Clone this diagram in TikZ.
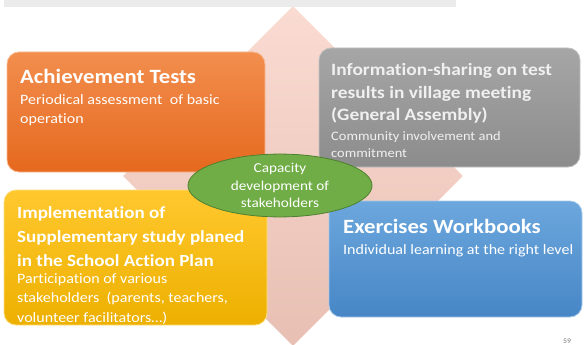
\documentclass[tikz,border=0pt]{standalone}
\usepackage{xcolor}
\usepackage{fontspec}
\setmainfont{Carlito}[FakeStretch=1.12, Ligatures=NoCommon]
\usetikzlibrary{calc, shapes.geometric, positioning}
\definecolor{corangetop}{HTML}{F28E4E}
\definecolor{corangebot}{HTML}{E5691E}
\definecolor{cgraytop}{HTML}{A6A6A6}
\definecolor{cgraybot}{HTML}{8C8C8C}
\definecolor{cyellowtop}{HTML}{FFC82E}
\definecolor{cyellowbot}{HTML}{EDB000}
\definecolor{cbluetop}{HTML}{6CA7DD}
\definecolor{cbluebot}{HTML}{4786C6}
\definecolor{cgreen}{HTML}{70AD47}
\definecolor{cgreendark}{HTML}{4E7F30}
\definecolor{cpinktop}{HTML}{FADBD2}
\definecolor{cpinkbot}{HTML}{E8BFB3}
\definecolor{cbar}{HTML}{EBEBEB}

\begin{document}
\begin{tikzpicture}[x=1pt, y=-1pt]
    \begin{scope}[
        tile/.style={rectangle, rounded corners=12pt, line width=0.8pt, inner sep=0pt},
        tiletitle/.style={anchor=base west, align=left, inner sep=0pt, text=white, font=\fontsize{20.3}{24}\selectfont\bfseries},
        tiletext/.style={anchor=base west, align=left, inner sep=0pt, text=white, font=\fontsize{14.3}{18}\selectfont}
    ]
        \useasboundingbox (0,0) rectangle (584,345);

        % ================= BACKGROUND =================
        \node[diamond, aspect=1, inner sep=0pt, minimum width=340pt, minimum height=340pt,
              top color=cpinktop, bottom color=cpinkbot] (center_diamond) at (293,176) {};
        \fill[cbar] (4,-2) rectangle (456,7);

        % ================= TOP LEFT: Achievement Tests =================
        \node[tile, minimum width=258pt, minimum height=120pt, top color=corangetop, bottom color=corangebot, draw=corangetop!60!white] (tests) at (136,112) {};
        \node[tiletitle] (tests_title) at (20,84) {Achievement Tests};
        \node[tiletext] (tests_text) at (20,123) {Periodical assessment\ \ of basic\\operation};

        % ================= TOP RIGHT: Information-sharing =================
        \node[tile, minimum width=261pt, minimum height=119pt, top color=cgraytop, bottom color=cgraybot, draw=cgraytop!70!white] (sharing) at (449.5,107.5) {};
        \node[tiletitle, text=white!94!black, font=\fontsize{17.3}{22.5}\selectfont\bfseries] (sharing_title) at (331,121) {Information-sharing on test\\results in village meeting\\(General Assembly)};
        \node[tiletext, text=white!94!black, font=\fontsize{12.9}{17}\selectfont] (sharing_text) at (331,157) {Community involvement and\\commitment};

        % ================= BOTTOM LEFT: Supplementary study =================
        \node[tile, minimum width=263pt, minimum height=135pt, top color=cyellowtop, bottom color=cyellowbot, draw=cyellowtop!60!white] (study) at (135.5,257.5) {};
        \node[tiletitle, font=\fontsize{17}{24}\selectfont\bfseries] (study_title) at (17,266) {Implementation of\\Supplementary study planed\\in the School Action Plan};
        \node[tiletext, font=\fontsize{14.3}{19.5}\selectfont] (study_text) at (17,322) {Participation of various\\stakeholders\ \ (parents, teachers,\\volunteer facilitators…)};

        % ================= BOTTOM RIGHT: Exercises Workbooks =================
        \node[tile, minimum width=253pt, minimum height=116pt, top color=cbluetop, bottom color=cbluebot, draw=cbluetop!60!white] (workbooks) at (455.5,259) {};
        \node[tiletitle] (workbooks_title) at (343,233) {Exercises Workbooks};
        \node[tiletext] (workbooks_text) at (343,254) {Individual learning at the right level};

        % ================= CENTER =================
        \node[ellipse, minimum width=184pt, minimum height=55pt, inner sep=0pt, fill=cgreen, draw=cgreendark, line width=0.8pt,
              text=white, align=center, font=\fontsize{13.6}{17.5}\selectfont] (capacity) at (280,185.5) {Capacity\\development of\\stakeholders};

        \node[anchor=base, inner sep=0pt, text=black!55, font=\fontsize{7}{8}\selectfont] (page_no) at (567,343) {59};
    \end{scope}
\end{tikzpicture}
\end{document}
